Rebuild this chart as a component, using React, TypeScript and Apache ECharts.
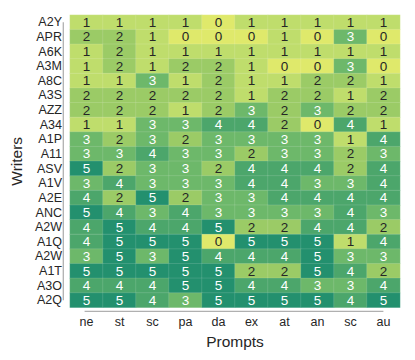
import React, { useEffect, useRef } from "react";
import * as echarts from "echarts";

const prompts = ["ne", "st", "sc", "pa", "da", "ex", "at", "an", "sc", "au"];
const writers = [
  "A2Y", "APR", "A6K", "A3M", "A8C", "A3S", "AZZ", "A34", "A1P", "A11",
  "ASV", "A1V", "A2E", "ANC", "A2W", "A1Q", "A2W", "A1T", "A3O", "A2Q",
];
const scores: number[][] = [
  [1, 1, 1, 1, 0, 1, 1, 1, 1, 1],
  [2, 2, 1, 0, 0, 0, 1, 0, 3, 0],
  [1, 2, 1, 1, 1, 1, 1, 1, 1, 1],
  [1, 2, 1, 2, 2, 1, 0, 0, 3, 0],
  [1, 1, 3, 1, 2, 1, 1, 2, 2, 1],
  [2, 2, 2, 2, 2, 1, 2, 2, 1, 2],
  [2, 2, 2, 1, 2, 3, 2, 3, 2, 2],
  [1, 1, 3, 3, 4, 4, 2, 0, 4, 1],
  [3, 2, 3, 2, 3, 3, 3, 3, 1, 4],
  [3, 3, 4, 3, 3, 2, 3, 3, 2, 3],
  [5, 2, 3, 3, 2, 4, 4, 4, 2, 4],
  [3, 4, 3, 3, 3, 4, 4, 3, 3, 4],
  [4, 2, 5, 2, 3, 3, 4, 4, 4, 4],
  [5, 4, 3, 4, 3, 3, 3, 3, 4, 3],
  [4, 5, 4, 4, 5, 2, 2, 4, 4, 2],
  [4, 5, 5, 5, 0, 5, 5, 5, 1, 4],
  [3, 5, 3, 5, 4, 4, 4, 5, 3, 3],
  [5, 5, 5, 5, 5, 2, 2, 5, 4, 2],
  [4, 4, 4, 5, 5, 4, 4, 3, 3, 4],
  [5, 5, 4, 3, 5, 5, 5, 5, 4, 5],
];
const scoreColors = ["#dfe96b", "#bfdd6c", "#9bcb66", "#6db86a", "#4ca66b", "#23906e"];

const FONT = "Liberation Sans, Arial, sans-serif";

export default function App() {
  const ref = useRef<HTMLDivElement>(null);
  useEffect(() => {
    if (!ref.current) return;
    const chart = echarts.init(ref.current, undefined, { renderer: "svg" });
    const data: any[] = [];
    scores.forEach((row, yi) =>
      row.forEach((v, xi) =>
        data.push({
          value: [xi, yi, v],
          label: { color: v >= 3 ? "#ffffff" : "#262626" },
        })
      )
    );
    const left = 68, top = 15, width = 332, height = 292.6;
    const colW = width / prompts.length;
    const rowH = height / writers.length;
    chart.setOption({
      animation: false,
      textStyle: { fontFamily: FONT },
      grid: { left, top, width, height },
      xAxis: {
        type: "category",
        data: prompts,
        axisLine: { show: false },
        axisTick: { show: false },
        splitLine: { show: false },
        axisLabel: { color: "#262626", fontSize: 12.5, margin: 8, interval: 0, fontFamily: FONT },
        name: "Prompts",
        nameLocation: "middle",
        nameGap: 23,
        nameTextStyle: { color: "#262626", fontSize: 15.5, fontFamily: FONT },
      },
      yAxis: {
        type: "category",
        data: writers,
        inverse: true,
        axisLine: { show: false },
        axisTick: { show: false },
        splitLine: { show: false },
        axisLabel: { color: "#262626", fontSize: 12.5, margin: 8, interval: 0, fontFamily: FONT },
        name: "Writers",
        nameLocation: "middle",
        nameGap: 36,
        nameRotate: 90,
        nameTextStyle: { color: "#262626", fontSize: 15.5, fontFamily: FONT },
      },
      visualMap: {
        type: "piecewise",
        show: false,
        dimension: 2,
        pieces: scoreColors.map((c, i) => ({ value: i, color: c })),
      },
      series: [
        {
          type: "heatmap",
          data,
          itemStyle: { borderColor: "rgba(255,255,255,0.25)", borderWidth: 0.5 },
          label: { show: true, fontSize: 13.5, fontFamily: FONT },
          emphasis: { disabled: true },
        },
      ],
      graphic: [
        {
          type: "line",
          shape: { x1: 63.3, y1: top + rowH / 2, x2: 63.3, y2: top + height - rowH / 2 },
          style: { stroke: "#b0b0b0", lineWidth: 1.3 },
        },
        {
          type: "line",
          shape: { x1: left + colW / 2, y1: 311.3, x2: left + width - colW / 2, y2: 311.3 },
          style: { stroke: "#b0b0b0", lineWidth: 1.3 },
        },
      ],
    });
    return () => chart.dispose();
  }, []);
  return <div ref={ref} style={{ width: 415, height: 360, margin: -8 }} />;
}
